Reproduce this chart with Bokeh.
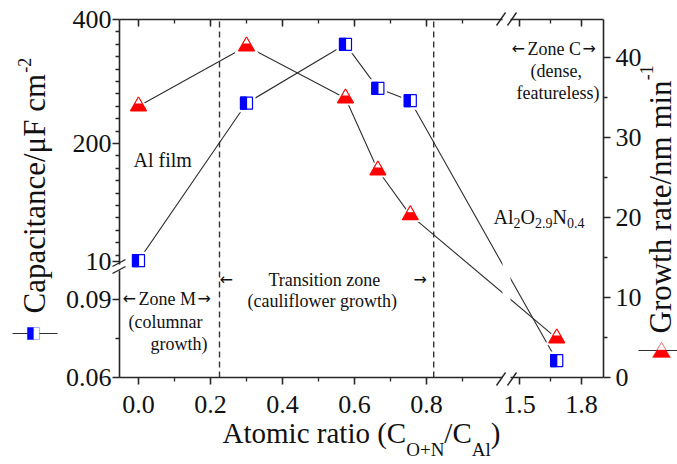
import numpy as np
from bokeh.plotting import figure
from bokeh.models import (Range1d, LinearAxis, FixedTicker, Label,
                          BoxAnnotation, PolyAnnotation, Arrow)
from bokeh.embed import file_html
from bokeh.resources import INLINE

# ---------------- data ----------------
ratio = [0.0, 0.30, 0.575, 0.665, 0.755, 1.68]            # C_(O+N)/C_Al
capacitance = [11.0, 265.0, 360.0, 289.0, 269.0, 0.0665]  # uF cm^-2
growth_rate = [33.9, 41.4, 34.9, 25.9, 20.3, 4.9]         # nm min^-1
zone_bounds = [0.225, 0.82]

x_ticks = [0.0, 0.2, 0.4, 0.6, 0.8, 1.5, 1.8]
x_tick_labels = ["0.0", "0.2", "0.4", "0.6", "0.8", "1.5", "1.8"]
x_minor = [0.1, 0.3, 0.5, 0.7, 0.9, 1.65]
cap_ticks = [0.06, 0.09, 10, 200, 400]
cap_tick_labels = ["0.06", "0.09", "10", "200", "400"]
cap_minor = [0.075] + [20 * k for k in range(1, 20) if k != 10]
gr_ticks = [0, 10, 20, 30, 40]
gr_minor = [5, 15, 25, 35]

# ---------------- geometry (canvas pixels) ----------------
CANVAS_W, CANVAS_H = 677, 464
FRAME_L, FRAME_T, FW, FH = 119, 19, 484, 358
PXX = 360.0          # px per x unit (left segment)
PXY = 8.0            # px per growth-rate unit
X_START = -19 / PXX


def xp(x):
    """broken x axis: 0..1 linear, then 1.44..1.9 compressed"""
    x = np.asarray(x, float)
    return np.where(x < 1.2, x, 1.0583 + (x - 1.5) * 207.0 / PXX)


def cap_g(c):
    """broken capacitance axis mapped into growth-rate coordinates"""
    c = np.asarray(c, float)
    upper = (FH - (400.0 - c) * 0.62) / PXY
    lower = (c - 0.06) * 2600.0 / PXY
    return np.where(c >= 1.0, upper, lower)


def X(px):
    return X_START + (px - FRAME_L) / PXX


def Y(py):
    return (FRAME_T + FH - py) / PXY


FONT = "Liberation Serif"
AFONT = "DejaVu Sans"
TXT = "#111111"
AXC = "#262626"
BLUE = "#0000ff"
RED = "#ff0000"
LC = "#2e2e2e"

p = figure(width=CANVAS_W, height=CANVAS_H, min_border=0,
           x_range=Range1d(X(0), X(CANVAS_W)),
           y_range=Range1d(Y(CANVAS_H), Y(0)),
           x_axis_location=None, y_axis_location=None,
           output_backend="svg", toolbar_location=None)
p.outline_line_color = None
p.xgrid.visible = False
p.ygrid.visible = False

X_LO, X_HI = X(FRAME_L), X(FRAME_L + FW)
Y_LO, Y_HI = Y(FRAME_T + FH), Y(FRAME_T)


def style(ax, inward=False, labels=True, standoff=5):
    ax.axis_line_color = AXC
    ax.axis_line_width = 1.6
    ax.major_tick_line_color = AXC
    ax.major_tick_line_width = 1.6
    ax.minor_tick_line_color = AXC
    ax.minor_tick_line_width = 1.3
    if inward:
        ax.major_tick_in, ax.major_tick_out = 7, 0
        ax.minor_tick_in, ax.minor_tick_out = 4, 0
    else:
        ax.major_tick_in, ax.major_tick_out = 0, 7
        ax.minor_tick_in, ax.minor_tick_out = 0, 4
    ax.major_label_text_font = FONT
    ax.major_label_text_font_size = "26px"
    ax.major_label_text_color = TXT
    ax.major_label_standoff = standoff
    if not labels:
        ax.major_label_text_font_size = "0px"
        ax.major_label_standoff = 0


x_pos = [float(v) for v in xp(x_ticks)]
x_min_pos = [float(v) for v in xp(x_minor)]
bottom = LinearAxis(ticker=FixedTicker(ticks=x_pos, minor_ticks=x_min_pos),
                    major_label_overrides=dict(zip(x_pos, x_tick_labels)),
                    fixed_location=Y_LO, bounds=(X_LO, X_HI))
style(bottom, standoff=11)
p.add_layout(bottom, "below")

top = LinearAxis(ticker=FixedTicker(ticks=x_pos, minor_ticks=x_min_pos),
                 major_label_overrides={v: "" for v in x_pos},
                 fixed_location=Y_HI, bounds=(X_LO, X_HI))
style(top, inward=True, labels=False)
p.add_layout(top, "above")

cap_pos = [float(v) for v in cap_g(cap_ticks)]
left = LinearAxis(ticker=FixedTicker(ticks=cap_pos,
                                     minor_ticks=[float(v) for v in cap_g(cap_minor)]),
                  major_label_overrides=dict(zip(cap_pos, cap_tick_labels)),
                  fixed_location=X_LO, bounds=(Y_LO, Y_HI))
style(left, standoff=1)
p.add_layout(left, "left")

right = LinearAxis(ticker=FixedTicker(ticks=gr_ticks, minor_ticks=gr_minor),
                   fixed_location=X_HI, bounds=(Y_LO, Y_HI))
style(right, standoff=5)
p.add_layout(right, "right")

# ---------------- zone boundaries ----------------
zb = xp(zone_bounds)
p.segment(x0=zb, y0=Y_LO, x1=zb, y1=Y_HI, line_color="#333333",
          line_width=1.4, line_dash="6 4")

# ---------------- data series ----------------
x_plot = xp(ratio)
cap_plot = cap_g(capacitance)
gr_plot = np.asarray(growth_rate, float)

p.line(x_plot, gr_plot, line_color=LC, line_width=1.1)
p.line(x_plot, cap_plot, line_color=LC, line_width=1.1)

S_SQ, S_TRI = 12, 16
p.scatter(x_plot, cap_plot, marker="square", size=S_SQ + 6, fill_color="white", line_color=None)
p.scatter(x_plot, gr_plot, marker="triangle", size=S_TRI + 8, fill_color="white", line_color=None)

p.scatter(x_plot, cap_plot, marker="square", size=S_SQ, fill_color="white",
          line_color=BLUE, line_width=1.2)
p.rect(x_plot - (S_SQ / 4) / PXX, cap_plot, width=S_SQ / 2, height=S_SQ,
       width_units="screen", height_units="screen",
       fill_color=BLUE, line_color=BLUE, line_width=1.2)

p.scatter(x_plot, gr_plot, marker="triangle", size=S_TRI, fill_color=RED,
          line_color=RED, line_width=1.2)
p.scatter(x_plot, gr_plot + 0.2887 * S_TRI / PXY, marker="triangle", size=S_TRI / 2,
          fill_color="white", line_color=RED, line_width=1.0)

# ---------------- axis breaks ----------------
p.add_layout(BoxAnnotation(left=X(502), right=X(510), bottom=Y(388), top=Y(8),
                           fill_color="white", fill_alpha=1.0, line_alpha=0))
p.add_layout(BoxAnnotation(left=X(113), right=X(122), bottom=Y(270), top=Y(264),
                           fill_color="white", fill_alpha=1.0, line_alpha=0))


def seg(x0, y0, x1, y1, color=AXC, width=1.4):
    p.add_layout(Arrow(x_start=X(x0), y_start=Y(y0), x_end=X(x1), y_end=Y(y1),
                       end=None, start=None, line_color=color, line_width=width))


for dx in (0, 11):
    seg(496 + dx, 385, 505 + dx, 372)
    seg(496 + dx, 25, 505 + dx, 12)
for dy in (0, 7):
    seg(112, 266 + dy, 125, 259 + dy)


# ---------------- texts ----------------
WID = {' ': 250, '(': 333, ')': 333, '+': 564, '-': 333, '.': 250, '/': 278,
       'A': 722, 'C': 667, 'F': 556, 'G': 722, 'N': 722, 'O': 722,
       'a': 444, 'c': 444, 'e': 444, 'h': 500, 'i': 278, 'l': 278, 'm': 778,
       'n': 500, 'o': 500, 'p': 500, 'r': 333, 't': 278, 'w': 722, '\u03bc': 576}


def tw(s, size):
    return sum(WID.get(ch, 500) for ch in s) * size / 1000.0


def lab(text, px, py, size, align="left", baseline="alphabetic", angle=0.0, font=FONT):
    p.add_layout(Label(x=X(px), y=Y(py), text=text, text_font=font,
                       text_font_size=f"{size}px", text_color=TXT,
                       text_align=align, text_baseline=baseline, angle=angle))


def rich_h(pieces, px, py):
    for text, size, dy in pieces:
        lab(text, px, py + dy, size)
        px += tw(text, size)


def rich_v(pieces, py):
    for text, size, bx in pieces:
        lab(text, bx, py, size, angle=np.pi / 2)
        py -= tw(text, size)


LARR, RARR = "\u2190", "\u2192"

lab("Al film", 133, 159, 20)

lab(LARR, 122, 298, 16, font=AFONT)
lab("Zone M", 138, 298, 18)
lab(RARR, 197, 298, 16, font=AFONT)
lab("(columnar", 128, 321, 18)
lab("growth)", 150, 343, 18)

lab(LARR, 219, 279, 16, font=AFONT)
lab("Transition zone", 268, 279, 18)
lab(RARR, 413, 279, 16, font=AFONT)
lab("(cauliflower growth)", 247, 300, 18)

lab(LARR, 511, 48, 16, font=AFONT)
lab("Zone C", 527, 48, 18)
lab(RARR, 582, 48, 16, font=AFONT)
lab("(dense,", 530, 70, 18)
lab("featureless)", 516, 92, 18)

rich_h([("Al", 20, 0), ("2", 14, 6), ("O", 20, 0), ("2.9", 14, 6),
        ("N", 20, 0), ("0.4", 14, 6)], 493, 216)

xt = [("Atomic ratio (C", 29, 0), ("O+N", 19, 17), ("/C", 29, 0), ("Al", 19, 17), (")", 29, 0)]
rich_h(xt, 361 - sum(tw(t, s) for t, s, _ in xt) / 2, 432)

rich_v([("Capacitance/\u03bcF cm", 31, 34), ("-2", 18, 24)], 313)
rich_v([("Growth rate/nm min", 31, 660), ("-1", 18, 646)], 333)

# ---------------- series keys next to axis titles ----------------
seg(12, 333, 57, 333, color=LC, width=1.1)
p.add_layout(PolyAnnotation(xs=[X(27), X(39), X(39), X(27)], ys=[Y(327), Y(327), Y(339), Y(339)],
                            fill_color="white", fill_alpha=1, line_color=BLUE, line_width=1.2))
p.add_layout(PolyAnnotation(xs=[X(27), X(33), X(33), X(27)], ys=[Y(327), Y(327), Y(339), Y(339)],
                            fill_color=BLUE, fill_alpha=1, line_color=BLUE, line_width=1.2))

seg(638, 350, 677, 350, color=LC, width=1.1)
p.add_layout(PolyAnnotation(xs=[X(661), X(670), X(652)], ys=[Y(342), Y(357), Y(357)],
                            fill_color=RED, fill_alpha=1, line_color=RED, line_width=1.2))
p.add_layout(PolyAnnotation(xs=[X(661), X(665.5), X(656.5)], ys=[Y(342), Y(349.5), Y(349.5)],
                            fill_color="white", fill_alpha=1, line_color=RED, line_width=1.0))

open("out.html", "w").write(file_html(p, INLINE))
